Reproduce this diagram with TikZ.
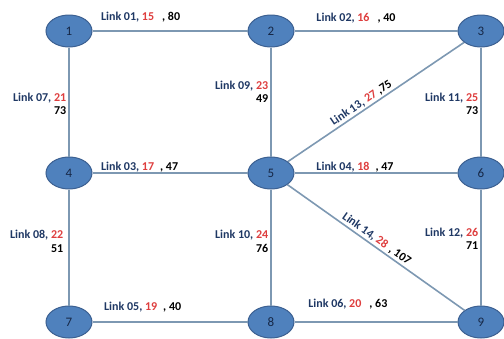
\documentclass[tikz,border=0pt]{standalone}
\usepackage{fontspec}
\setmainfont{Carlito}
\usepackage{tikz}
\usetikzlibrary{positioning, calc, shapes, arrows}

\definecolor{routerfill}{RGB}{79,129,189}
\definecolor{routerdraw}{RGB}{60,96,145}
\definecolor{linkline}{RGB}{125,152,178}
\definecolor{linkname}{RGB}{31,56,100}
\definecolor{linkred}{RGB}{222,62,62}

\tikzset{
	router/.style = {ellipse, fill=routerfill, draw=routerdraw, line width=1pt, minimum width=46pt, minimum height=32pt, inner sep=0pt, font=\fontsize{13}{15}\selectfont, text=linkname!70!black},
	link/.style = {draw=linkline, line width=1.6pt},
	hlabel/.style = {anchor=base west, inner sep=0pt, font=\fontsize{12}{13.5}\selectfont\bfseries, text=linkname},
	vlabel/.style = {anchor=east, inner sep=0pt, font=\fontsize{12}{13.5}\selectfont\bfseries, text=linkname},
	slabel/.style = {sloped, above, inner sep=1.5pt, font=\fontsize{12}{13.5}\selectfont\bfseries, text=linkname}
}

\begin{document}
\begin{tikzpicture}[x=1pt, y=-1pt]
	\useasboundingbox (0,0) rectangle (504,338);

	\node[router] (n1) at (69,31) {1};
	\node[router] (n2) at (271,31) {2};
	\node[router] (n3) at (481,31) {3};
	\node[router] (n4) at (69,173) {4};
	\node[router] (n5) at (271,173) {5};
	\node[router] (n6) at (481,173) {6};
	\node[router] (n7) at (69,322) {7};
	\node[router] (n8) at (271,322) {8};
	\node[router] (n9) at (481,322) {9};

	\draw[link] (n1) -- node[hlabel, pos=0.05, yshift=11pt] (l01) {Link 01, \textcolor{linkred}{15}\hspace{8pt}\textcolor{black}{, 80}} (n2);
	\draw[link] (n2) -- node[hlabel, pos=0.13, yshift=10pt] (l02) {Link 02, \textcolor{linkred}{16}\hspace{8pt}\textcolor{black}{, 40}} (n3);
	\draw[link] (n4) -- node[hlabel, pos=0.05, yshift=3pt] (l03) {Link 03, \textcolor{linkred}{17}\hspace{6pt}\textcolor{black}{, 47}} (n5);
	\draw[link] (n5) -- node[hlabel, pos=0.13, yshift=3pt] (l04) {Link 04, \textcolor{linkred}{18}\hspace{6pt}\textcolor{black}{, 47}} (n6);
	\draw[link] (n7) -- node[hlabel, pos=0.07, yshift=12pt] (l05) {Link 05, \textcolor{linkred}{19}\hspace{6pt}\textcolor{black}{, 40}} (n8);
	\draw[link] (n8) -- node[hlabel, pos=0.08, yshift=15pt] (l06) {Link 06, \textcolor{linkred}{20}\hspace{8pt}\textcolor{black}{, 63}} (n9);

	\draw[link] (n1) -- node[vlabel, pos=0.53, xshift=-2pt] (l07) {\begin{tabular}{@{}r@{}}Link 07, \textcolor{linkred}{21}\\ \textcolor{black}{73}\end{tabular}} (n4);
	\draw[link] (n4) -- node[vlabel, pos=0.46, xshift=-5pt] (l08) {\begin{tabular}{@{}r@{}}Link 08, \textcolor{linkred}{22}\\ \textcolor{black}{51}\end{tabular}} (n7);
	\draw[link] (n2) -- node[vlabel, pos=0.42, xshift=-2pt] (l09) {\begin{tabular}{@{}r@{}}Link 09, \textcolor{linkred}{23}\\ \textcolor{black}{49}\end{tabular}} (n5);
	\draw[link] (n5) -- node[vlabel, pos=0.46, xshift=-2pt] (l10) {\begin{tabular}{@{}r@{}}Link 10, \textcolor{linkred}{24}\\ \textcolor{black}{76}\end{tabular}} (n8);
	\draw[link] (n3) -- node[vlabel, pos=0.53, xshift=-2pt] (l11) {\begin{tabular}{@{}r@{}}Link 11, \textcolor{linkred}{25}\\ \textcolor{black}{73}\end{tabular}} (n6);
	\draw[link] (n6) -- node[vlabel, pos=0.44, xshift=-2pt] (l12) {\begin{tabular}{@{}r@{}}Link 12, \textcolor{linkred}{26}\\ \textcolor{black}{71}\end{tabular}} (n9);

	\draw[link] (n5) -- node[slabel, pos=0.44] (l13) {Link 13, \textcolor{linkred}{27}\hspace{3pt}\textcolor{black}{,75}} (n3);
	\draw[link] (n5) -- node[slabel, pos=0.48] (l14) {Link 14, \textcolor{linkred}{28}\hspace{4pt}\textcolor{black}{, 107}} (n9);
\end{tikzpicture}
\end{document}
